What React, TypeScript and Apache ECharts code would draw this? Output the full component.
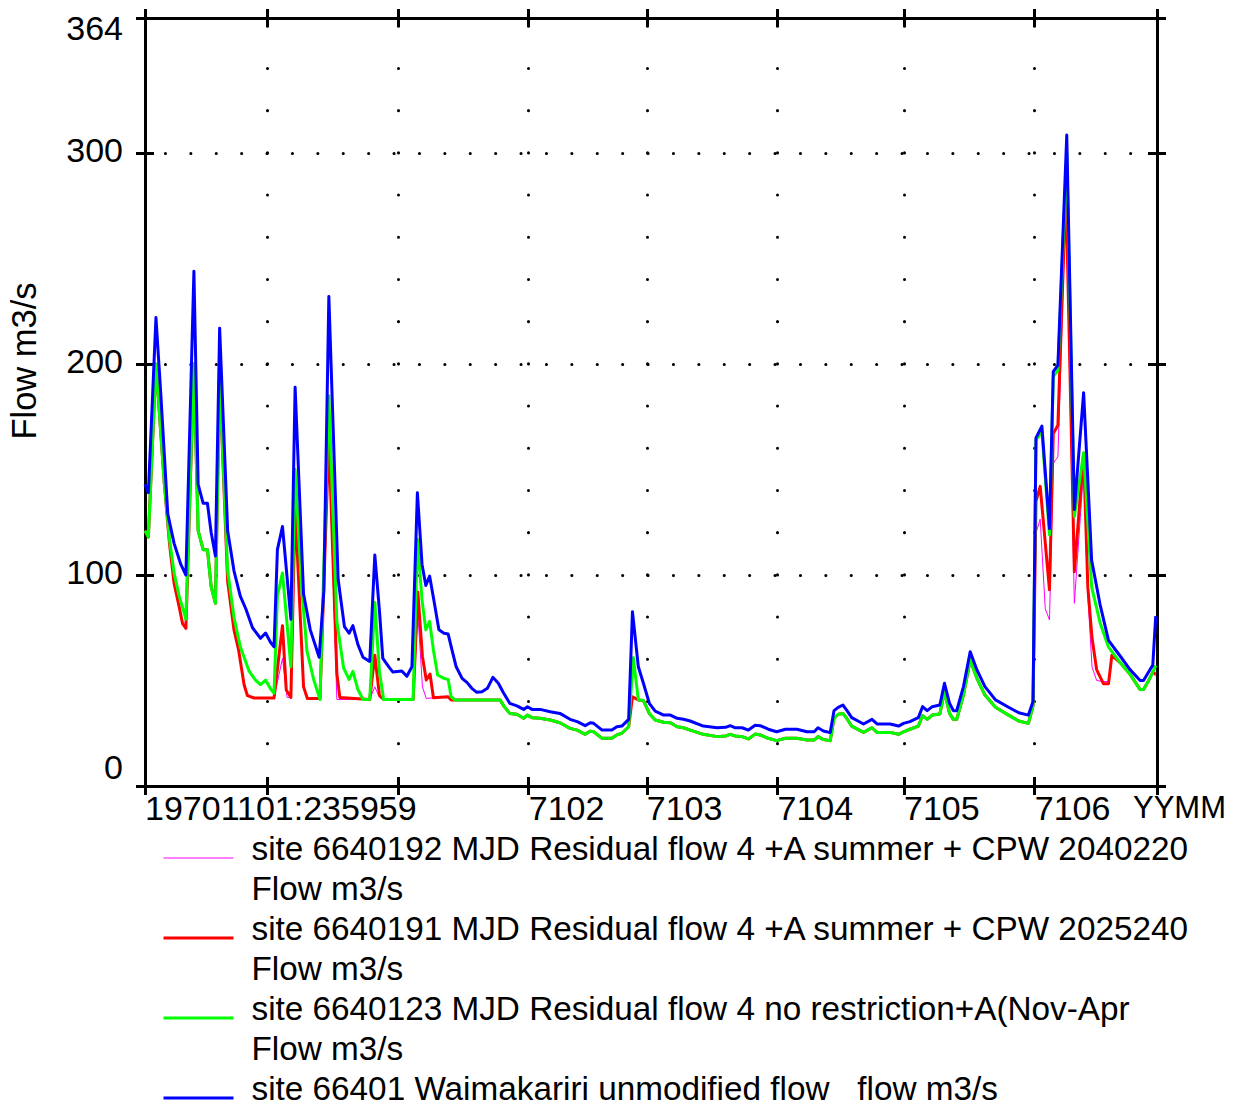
import React, { useEffect, useRef } from 'react';
import * as echarts from 'echarts';

const FONT = '"Liberation Sans", Arial, Helvetica, sans-serif';

// x values are days after 1970-11-01 00:00
const X_MIN = 1;
const X_MAX = 241;
const Y_MIN = 0;
const Y_MAX = 364;
const Y_INTERVAL = 100;

const xTickDays = [1, 30, 61, 92, 120, 151, 181, 212, 241];
const xLabelDays = [1, 92, 120, 151, 181, 212];
const xLabelTexts = ['19701101:235959', '7102', '7103', '7104', '7105', '7106'];
const xUnitText = 'YYMM';
const yAxisTitle = 'Flow m3/s';

const seriesNames = [
  'site 6640192 MJD Residual flow 4 +A summer + CPW 2040220\nFlow m3/s',
  'site 6640191 MJD Residual flow 4 +A summer + CPW 2025240\nFlow m3/s',
  'site 6640123 MJD Residual flow 4 no restriction+A(Nov-Apr\nFlow m3/s',
  'site 66401 Waimakariri unmodified flow   flow m3/s',
];
const seriesColors = ['#ff00ff', '#ff0000', '#00ff00', '#0000ff'];
const seriesWidths = [1, 3, 3, 3];

const magentaFlow: [number, number][] = [
  [1.0, 121], [1.8, 118], [3.6, 200], [5.6, 143], [6.8, 115], [7.9, 96], [9.1, 85], [9.9, 77], [10.7, 74.7],
  [12.6, 200], [13.6, 121], [14.8, 112], [15.8, 112], [16.7, 94.4], [17.7, 86.6], [18.7, 193], [20.6, 97],
  [22.1, 74], [23.2, 64.5], [24.5, 48], [25.3, 42.8], [26.9, 41.7], [31.6, 41.7], [33.6, 60.5], [34.7, 42],
  [35.6, 42], [36.6, 133], [38.6, 47], [39.5, 41.5], [42.5, 41.5], [44.6, 165], [46.5, 41], [54.3, 41],
  [55.5, 47], [56.6, 42], [57.6, 41], [64.6, 41], [65.7, 82], [66.8, 47], [67.7, 41.5], [69.4, 41.8],
  [72.9, 42.3], [73.6, 40.8], [85.2, 40.8], [86.2, 37.6], [87.5, 34.4], [89.2, 34], [90.8, 32.1], [91.7, 33.6],
  [92.8, 32.4], [94.7, 32.1], [97.1, 31.3], [99.4, 30], [101.8, 27.3], [103.5, 26.5], [105.4, 24.5], [106.6, 26],
  [107.4, 25.7], [109.4, 22.6], [111.7, 22.6], [112.9, 24.2], [114.1, 25], [115.7, 28.1], [116.6, 42.3], [118, 40.8],
  [119.2, 40.5], [120.6, 34.4], [122, 31.3], [124, 30.2], [125.6, 30], [127.2, 28.1], [128.7, 27.6], [130.3, 26.5],
  [133.4, 24.5], [136.7, 23.4], [138.7, 23.7], [139.8, 24.5], [141, 23.7], [142.6, 23.4], [144.1, 22.3], [145.7, 24.6],
  [146.9, 24.2], [148.8, 22.6], [150.8, 21.5], [152.9, 22.6], [155.6, 22.6], [158, 21.8], [159.7, 21.8], [160.6, 23.4],
  [161.9, 22], [163.5, 21.5], [164.4, 32.1], [165.4, 34], [166.5, 34.4], [167.4, 32.1], [168.6, 28.4], [171.4, 25.4],
  [173.4, 27.6], [174.6, 25.4], [177.7, 25.4], [179.7, 24.5], [180.9, 25.7], [182.4, 26.9], [184.4, 28.4], [185.4, 33.3],
  [186.5, 31.6], [187.7, 33.6], [189.5, 34.1], [190.6, 44.7], [191.8, 34.4], [192.7, 31.6], [193.5, 31.6], [195.1, 43.1],
  [196.7, 59.7], [198.3, 51], [200.2, 43.1], [202.7, 37.3], [205.8, 33.6], [208.2, 30.8], [210.5, 29.7], [211.6, 38],
  [212.3, 120], [213.3, 126.5], [214.5, 84], [215.5, 78.7], [216.4, 153], [217.5, 156], [219.4, 280], [221.4, 86.6],
  [223.6, 150], [224.6, 90], [225.6, 56.3], [226.7, 50], [228.3, 49.5], [229.5, 49.5], [230.3, 62], [232.3, 58.4],
  [234.6, 53], [237, 45.7], [237.8, 45.7], [239, 49.9], [240, 54], [240.7, 52],
];

const redFlow: [number, number][] = [
  [1.0, 121], [1.8, 118], [3.6, 200], [5.6, 143], [6.8, 115], [7.9, 96], [9.1, 85], [9.9, 77], [10.7, 74.7],
  [12.6, 200], [13.6, 121], [14.8, 112], [15.8, 112], [16.7, 94.4], [17.7, 86.6], [18.7, 193], [20.6, 97],
  [22.1, 74], [23.2, 64.5], [24.5, 48], [25.3, 42.8], [26.9, 41.7], [31.6, 41.7], [33.6, 76], [34.5, 45.5],
  [35.6, 42], [36.6, 133], [38.6, 47], [39.5, 41.5], [42.5, 41.5], [44.6, 165], [46.5, 53.4], [47.2, 42],
  [54.3, 41], [55.5, 62], [56.6, 43], [57.6, 41], [64.6, 41], [65.7, 92], [66.8, 61.3], [67.7, 50.2],
  [68.6, 53.1], [69.4, 41.8], [72.9, 42.3], [73.6, 40.8], [85.2, 40.8], [86.2, 37.6], [87.5, 34.4], [89.2, 34],
  [90.8, 32.1], [91.7, 33.6], [92.8, 32.4], [94.7, 32.1], [97.1, 31.3], [99.4, 30], [101.8, 27.3], [103.5, 26.5],
  [105.4, 24.5], [106.6, 26], [107.4, 25.7], [109.4, 22.6], [111.7, 22.6], [112.9, 24.2], [114.1, 25], [115.7, 28.1],
  [116.6, 42.3], [118, 40.8], [119.2, 40.5], [120.6, 34.4], [122, 31.3], [124, 30.2], [125.6, 30], [127.2, 28.1],
  [128.7, 27.6], [130.3, 26.5], [133.4, 24.5], [136.7, 23.4], [138.7, 23.7], [139.8, 24.5], [141, 23.7], [142.6, 23.4],
  [144.1, 22.3], [145.7, 24.6], [146.9, 24.2], [148.8, 22.6], [150.8, 21.5], [152.9, 22.6], [155.6, 22.6], [158, 21.8],
  [159.7, 21.8], [160.6, 23.4], [161.9, 22], [163.5, 21.5], [164.4, 32.1], [165.4, 34], [166.5, 34.4], [167.4, 32.1],
  [168.6, 28.4], [171.4, 25.4], [173.4, 27.6], [174.6, 25.4], [177.7, 25.4], [179.7, 24.5], [180.9, 25.7], [182.4, 26.9],
  [184.4, 28.4], [185.4, 33.3], [186.5, 31.6], [187.7, 33.6], [189.5, 34.1], [190.6, 44.7], [191.8, 34.4], [192.7, 31.6],
  [193.5, 31.6], [195.1, 43.1], [196.7, 59.7], [198.3, 51], [200.2, 43.1], [202.7, 37.3], [205.8, 33.6], [208.2, 30.8],
  [210.5, 29.7], [211.6, 38], [212.3, 135], [213.3, 142], [215.5, 93], [216.4, 167], [217.5, 171], [219.4, 284],
  [221.4, 101.6], [223.6, 157.7], [224.6, 94], [225.6, 70], [226.7, 55], [228.3, 48.5], [229.5, 48.5], [230.3, 62],
  [232.3, 58.4], [234.6, 53], [237, 45.7], [237.8, 45.7], [239, 49.9], [240, 54], [240.7, 53],
];

const greenFlow: [number, number][] = [
  [1.0, 121], [1.8, 118], [3.6, 200], [5.6, 143], [6.8, 117], [7.9, 101], [9.1, 90], [10.3, 82], [10.7, 79],
  [12.6, 200], [13.6, 121], [14.8, 112], [15.8, 112], [16.7, 94.4], [17.7, 86.6], [18.7, 193], [20.6, 102],
  [22.1, 80], [23.6, 66], [25.7, 54.4], [27.2, 50.2], [28.4, 48], [29.6, 50.2], [30.8, 46], [31.6, 44],
  [32.4, 90], [33.6, 101], [35.6, 56.5], [36.6, 150], [38.2, 92], [39, 74], [39.4, 64], [41, 50.5], [42.5, 41],
  [44.6, 185], [46.5, 78], [48.1, 56], [49.4, 50.5], [50.3, 54.3], [51.5, 45.7], [52.7, 41], [54.3, 41],
  [55.5, 87], [56.6, 54], [57.6, 41], [64.6, 41], [65.6, 117], [66.7, 88], [67.6, 74], [68.5, 78], [69.4, 64.5],
  [70.4, 52.6], [71.9, 51], [72.9, 50.5], [73.6, 42.3], [74.5, 40.8], [85.2, 40.8], [86.2, 37.6], [87.5, 34.4],
  [89.2, 34], [90.8, 32.1], [91.7, 33.6], [92.8, 32.4], [94.7, 32.1], [97.1, 31.3], [99.4, 30], [101.8, 27.3],
  [103.5, 26.5], [105.4, 24.5], [106.6, 26], [107.4, 25.7], [109.4, 22.6], [111.7, 22.6], [112.9, 24.2], [114.1, 25],
  [115.7, 28.1], [116.8, 60.8], [118, 40.8], [119.2, 40.5], [120.6, 34.4], [122, 31.3], [124, 30.2], [125.6, 30],
  [127.2, 28.1], [128.7, 27.6], [130.3, 26.5], [133.4, 24.5], [136.7, 23.4], [138.7, 23.7], [139.8, 24.5], [141, 23.7],
  [142.6, 23.4], [144.1, 22.3], [145.7, 24.6], [146.9, 24.2], [148.8, 22.6], [150.8, 21.5], [152.9, 22.6], [155.6, 22.6],
  [158, 21.8], [159.7, 21.8], [160.6, 23.4], [161.9, 22], [163.5, 21.5], [164.4, 32.1], [165.4, 34], [166.5, 34.4],
  [167.4, 32.1], [168.6, 28.4], [171.4, 25.4], [173.4, 27.6], [174.6, 25.4], [177.7, 25.4], [179.7, 24.5], [180.9, 25.7],
  [182.4, 26.9], [184.4, 28.4], [185.4, 33.3], [186.5, 31.6], [187.7, 33.6], [189.5, 34.1], [190.6, 44.7], [191.8, 34.4],
  [192.7, 31.6], [193.5, 31.6], [195.1, 43.1], [196.7, 59.7], [198.3, 51], [200.2, 43.1], [202.7, 37.3], [205.8, 33.6],
  [208.2, 30.8], [210.5, 29.7], [211.6, 38], [212.3, 164], [213.7, 168], [215.5, 119], [216.4, 194], [217.5, 197],
  [219.6, 300], [221.4, 127.7], [223.6, 158], [225.5, 94.4], [227.5, 77.4], [229.5, 65.8], [232.3, 58.4], [234.6, 53],
  [237, 45.7], [237.8, 45.7], [239, 49.9], [240, 54], [240.7, 57],
];

const blueFlow: [number, number][] = [
  [1.0, 143], [1.8, 139], [3.6, 222], [4.8, 184], [6.4, 129], [7.9, 115], [9.5, 105], [10.7, 100], [12.6, 244],
  [13.6, 143], [14.8, 134], [15.8, 134], [16.7, 120], [17.7, 109], [18.7, 217], [20.6, 121], [22.1, 102], [23.6, 90],
  [24.9, 84], [26.5, 75], [28.4, 70], [29.6, 72.5], [30.8, 68], [31.6, 66], [32.4, 112], [33.6, 123], [35.6, 79],
  [36.6, 189], [38.6, 91], [40.2, 74], [42.3, 61], [43.4, 92], [44.6, 232], [46.8, 98], [48.3, 75.5], [49.4, 72.4],
  [50.3, 76], [51.5, 67], [52.7, 61], [54.3, 59], [55.5, 109.5], [56.6, 83], [57.4, 60.5], [59, 56], [59.8, 54],
  [61.9, 54.5], [63.1, 52], [64.3, 56.5], [65.6, 139], [66.7, 105], [67.6, 95], [68.5, 99.5], [69.6, 87], [70.7, 74],
  [71.9, 72.4], [72.9, 72], [73.8, 64.5], [74.8, 56.5], [76.2, 51], [77.4, 49], [78.5, 46.3], [79.7, 44.4], [80.9, 44.7],
  [82.2, 46.3], [83.5, 51.5], [84.8, 48.7], [86, 44.2], [87.5, 39.2], [89.2, 38], [90.8, 36.3], [91.7, 37.6], [92.8, 36.3],
  [94.7, 36.3], [97.1, 35.2], [99.4, 34.4], [101.8, 31.6], [103.5, 30.5], [105.4, 28.6], [106.6, 30], [107.4, 29.7],
  [109.4, 26.5], [111.7, 26.5], [112.9, 28.1], [114.1, 28.4], [115.7, 31.6], [116.6, 82.6], [118, 56.5], [119.2, 48.7],
  [120.6, 39.2], [122, 35.5], [124, 33.6], [125.6, 33.6], [127.2, 32.1], [128.7, 31.6], [130.3, 30.8], [133.4, 28.4],
  [136.7, 27.6], [138.7, 27.8], [139.8, 28.6], [141, 27.6], [142.6, 27.6], [144.1, 26.5], [145.7, 28.8], [146.9, 28.6],
  [148.8, 26.9], [150.8, 25.7], [152.9, 26.9], [155.6, 26.9], [158, 25.7], [159.7, 25.7], [160.6, 27.6], [161.9, 26.1],
  [163.5, 25.3], [164.4, 35.7], [165.4, 37.3], [166.5, 38.4], [167.4, 36], [168.6, 32.4], [171.4, 29.4], [173.4, 31.6],
  [174.6, 29.4], [177.7, 29.4], [179.7, 28.4], [180.9, 29.7], [182.4, 30.5], [184.4, 32.4], [185.4, 37.6], [186.5, 35.7],
  [187.7, 37.6], [189.5, 38.4], [190.6, 48.7], [191.8, 39.2], [192.7, 35.7], [193.5, 35.7], [195.1, 47.1], [196.7, 63.6],
  [198.3, 55], [200.2, 47.1], [202.7, 40.8], [205.8, 37.3], [208.2, 34.7], [210.5, 33.6], [211.6, 40], [212.3, 165],
  [213.7, 170.6], [215.5, 122], [216.4, 196.4], [217.5, 199.5], [219.6, 308.5], [221.4, 131], [223.6, 186.4], [225.5, 107],
  [227.5, 86], [229.5, 69], [232.3, 61.5], [234.6, 55.2], [237, 50], [237.8, 50], [239, 54], [240, 57.3], [240.7, 80.5],
];

const seriesData = [magentaFlow, redFlow, greenFlow, blueFlow];

export default function App() {
  const ref = useRef<HTMLDivElement>(null);

  useEffect(() => {
    const chart = echarts.init(ref.current as HTMLDivElement, null, { renderer: 'svg' });
    const black = '#000000';
    const axisLine = { show: true, onZero: false, lineStyle: { color: black, width: 3 } };
    const gridBox = { left: 145, right: 82, top: 18, bottom: 325, containLabel: false, outerBoundsMode: 'none' };

    const xAxisBase = (gridIndex: number, position: string, inside: boolean) => ({
      type: 'value',
      gridIndex,
      position,
      min: X_MIN,
      max: X_MAX,
      axisLine,
      axisTick: { show: true, inside, length: 9, customValues: xTickDays, lineStyle: { color: black, width: 3 } },
      axisLabel: { show: false },
      splitLine: { show: false },
    });
    const yAxisBase = (gridIndex: number, position: string, inside: boolean) => ({
      type: 'value',
      gridIndex,
      position,
      min: Y_MIN,
      max: Y_MAX,
      interval: Y_INTERVAL,
      axisLine,
      axisTick: { show: true, inside, length: 9, lineStyle: { color: black, width: 3 } },
      axisLabel: { show: false },
      splitLine: { show: false },
    });

    const xMain: any = xAxisBase(0, 'bottom', false);
    xMain.axisLabel = {
      show: true,
      customValues: xLabelDays,
      align: 'left',
      margin: 5,
      color: black,
      fontSize: 34,
      fontFamily: FONT,
      formatter: (v: number) => {
        const i = xLabelDays.indexOf(v);
        return i >= 0 ? xLabelTexts[i] : '';
      },
    };
    xMain.splitLine = {
      show: true,
      lineStyle: { color: black, width: 3, type: [0.1, 42.1], cap: 'round', dashOffset: 33.6 },
    };
    xMain.name = '{u|' + xUnitText + '}';
    xMain.nameLocation = 'end';
    xMain.nameGap = -24;
    xMain.nameTextStyle = {
      color: black,
      fontSize: 31,
      fontFamily: FONT,
      align: 'left',
      verticalAlign: 'middle',
      rich: { u: { color: black, fontSize: 31, fontFamily: FONT, padding: [42, 0, 0, 0] } },
    };

    const yMain: any = yAxisBase(0, 'left', false);
    yMain.axisLabel = {
      show: true,
      showMaxLabel: true,
      showMinLabel: true,
      margin: 22,
      color: black,
      fontSize: 34,
      fontFamily: FONT,
      formatter: (v: number) => (v === Y_MIN ? '{b|' + v + '}' : v === Y_MAX ? '{t|' + v + '}' : '{m|' + v + '}'),
      rich: {
        b: { fontSize: 34, fontFamily: FONT, color: black, padding: [0, 0, 38, 0] },
        t: { fontSize: 34, fontFamily: FONT, color: black, padding: [20, 0, 0, 0] },
        m: { fontSize: 34, fontFamily: FONT, color: black, padding: [0, 0, 6, 0] },
      },
    };
    yMain.splitLine = {
      show: true,
      lineStyle: { color: black, width: 3, type: [0.1, 25.3], cap: 'round', dashOffset: 5.4 },
    };
    yMain.name = yAxisTitle;
    yMain.nameLocation = 'middle';
    yMain.nameGap = 104;
    yMain.nameTextStyle = { color: black, fontSize: 34.5, fontFamily: FONT, padding: [0, 0, 0, 82] };

    const option: any = {
      animation: false,
      backgroundColor: '#ffffff',
      grid: [gridBox, gridBox],
      xAxis: [xMain, xAxisBase(0, 'top', false), xAxisBase(1, 'bottom', true), xAxisBase(1, 'top', true)],
      yAxis: [yMain, yAxisBase(0, 'right', false), yAxisBase(1, 'left', true), yAxisBase(1, 'right', true)],
      legend: {
        orient: 'vertical',
        left: 162,
        top: 808,
        height: 420,
        padding: 0,
        itemGap: -20,
        itemWidth: 70,
        itemHeight: 14,
        selectedMode: false,
        textStyle: {
          fontSize: 33.3,
          lineHeight: 40,
          color: black,
          fontFamily: FONT,
          padding: [0, 0, 0, 13],
          rich: {
            e: { fontSize: 10, lineHeight: 20, color: black, fontFamily: FONT },
            a: { fontSize: 33.3, lineHeight: 40, color: black, fontFamily: FONT },
            z: { fontSize: 10, lineHeight: 40, color: black, fontFamily: FONT },
          },
        },
        formatter: (name: string) => {
          const lines = name.split('\n');
          const body = lines.map((l) => '{a|' + l + '}').join('\n');
          return lines.length > 1 ? '{e| }\n' + body : '{e| }\n' + body + '\n{z| }';
        },
        itemStyle: { opacity: 0 },
        lineStyle: { width: 'inherit' },
        data: seriesNames,
      },
      series: seriesNames.map((name, i) => ({
        type: 'line',
        name,
        xAxisIndex: 0,
        yAxisIndex: 0,
        data: seriesData[i],
        symbol: 'none',
        showSymbol: false,
        silent: true,
        z: 2 + i,
        lineStyle: { color: seriesColors[i], width: seriesWidths[i], join: 'round' },
        itemStyle: { color: seriesColors[i] },
      })),
    };

    chart.setOption(option);
    return () => chart.dispose();
  }, []);

  return (
    <div
      ref={ref}
      style={{ position: 'absolute', left: 0, top: 0, width: 1239, height: 1111, background: '#ffffff' }}
    />
  );
}
